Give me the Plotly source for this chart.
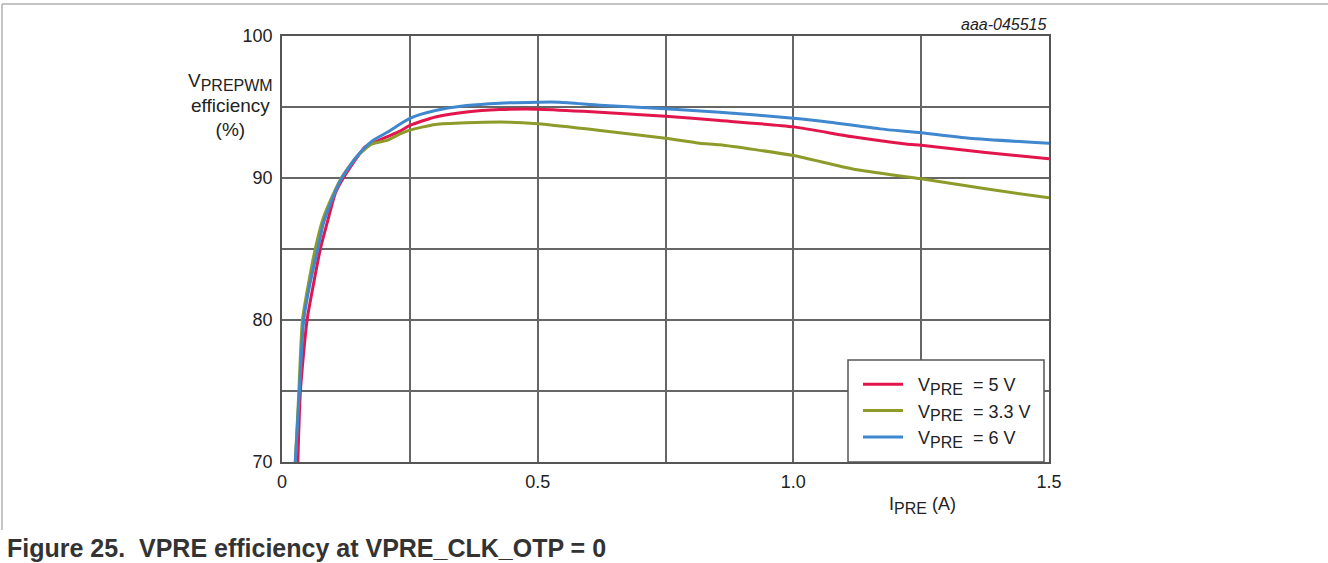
import plotly.graph_objects as go

# ---- data ----
i_5v = [0.031, 0.036, 0.049, 0.062, 0.075, 0.088, 0.104, 0.120, 0.163, 0.186, 0.205, 0.231, 0.25, 0.30,
        0.361, 0.426, 0.50, 0.589, 0.75, 0.856, 1.0, 1.116, 1.22, 1.25, 1.376, 1.5]
eff_5v = [70, 75, 80, 82.6, 85, 86.8, 88.9, 90, 92.2, 92.6, 92.9, 93.3, 93.7, 94.3,
          94.65, 94.82, 94.85, 94.7, 94.35, 94.05, 93.6, 92.9, 92.4, 92.3, 91.8, 91.35]

i_33v = [0.026, 0.033, 0.040, 0.052, 0.065, 0.079, 0.102, 0.116, 0.146, 0.176, 0.205, 0.231, 0.25, 0.30,
         0.361, 0.446, 0.50, 0.622, 0.75, 0.817, 0.856, 1.0, 1.116, 1.25, 1.376, 1.5]
eff_33v = [70, 75, 80, 82.6, 85, 87, 89, 90, 91.5, 92.4, 92.65, 93.1, 93.37, 93.77,
           93.89, 93.93, 93.82, 93.35, 92.8, 92.45, 92.34, 91.58, 90.64, 89.94, 89.24, 88.6]

i_6v = [0.026, 0.034, 0.0425, 0.055, 0.070, 0.081, 0.104, 0.117, 0.146, 0.176, 0.205, 0.25, 0.30,
        0.361, 0.426, 0.50, 0.543, 0.622, 0.75, 0.856, 1.0, 1.071, 1.169, 1.25, 1.344, 1.5]
eff_6v = [70, 75, 80, 82.6, 85, 86.8, 89.0, 90, 91.5, 92.6, 93.2, 94.2, 94.75,
          95.1, 95.27, 95.34, 95.34, 95.13, 94.87, 94.63, 94.21, 93.93, 93.46, 93.18, 92.8, 92.45]

SUB = "<sub><span style='font-size:16px'>PRE</span></sub>"
series_names = ["\u00a0\u00a0V" + SUB + "  = 5 V", "\u00a0\u00a0V" + SUB + "  = 3.3 V", "\u00a0\u00a0V" + SUB + "  = 6 V"]
series_colors = ["#E2164D", "#8E9B2A", "#3F87CE"]

x_tickvals = [0, 0.25, 0.5, 0.75, 1.0, 1.25, 1.5]
x_ticktext = ["0", "", "0.5", "", "1.0", "", "1.5"]
y_tickvals = [70, 75, 80, 85, 90, 95, 100]
y_ticktext = ["70", "", "80", "", "90", "", "100"]

FONT = "Liberation Sans, Arial, sans-serif"
W, H = 1328, 563
L, R, T, B = 282, 1049, 36, 462  # plot area in pixels


def px_x(p):
    return (p - L) / (R - L)


def px_y(p):
    return (B - p) / (B - T)


fig = go.Figure()
for xs, ys, name, col in [(i_5v, eff_5v, series_names[0], series_colors[0]),
                          (i_33v, eff_33v, series_names[1], series_colors[1]),
                          (i_6v, eff_6v, series_names[2], series_colors[2])]:
    fig.add_trace(go.Scatter(x=xs, y=ys, mode="lines", name=name,
                             line=dict(color=col, width=3, shape="spline", smoothing=0.6)))

axis_common = dict(showline=True, linecolor="#555", linewidth=1.5, mirror=True,
                   showgrid=True, gridcolor="#666", gridwidth=1.5, zeroline=False,
                   ticks="", tickfont=dict(family=FONT, size=18, color="#222"))

fig.update_xaxes(range=[0, 1.5], tickvals=x_tickvals, ticktext=x_ticktext, ticklabelstandoff=3, **axis_common)
fig.update_yaxes(range=[70, 100], tickvals=y_tickvals, ticktext=y_ticktext, ticklabelstandoff=4, **axis_common)

annotations = [
    dict(text="V<sub><span style='font-size:16px'>PREPWM</span></sub><br>efficiency<br>(%)",
         x=px_x(230), y=px_y(105), xref="paper", yref="paper",
         showarrow=False, font=dict(family=FONT, size=19, color="#222"), align="center",
         xanchor="center", yanchor="middle"),
    dict(text="I" + SUB + " (A)", x=px_x(922), y=px_y(505), xref="paper", yref="paper",
         showarrow=False, font=dict(family=FONT, size=18, color="#222"), xanchor="center", yanchor="middle"),
    dict(text="<i>aaa-045515</i>", x=1.0, y=px_y(24), xref="paper", yref="paper",
         showarrow=False, font=dict(family=FONT, size=16, color="#222"), xanchor="right", yanchor="middle"),
    dict(text="<b>Figure 25.  VPRE efficiency at VPRE_CLK_OTP = 0</b>", x=px_x(5), y=px_y(548),
         xref="paper", yref="paper", showarrow=False, font=dict(family=FONT, size=25, color="#333"),
         xanchor="left", yanchor="middle"),
]

shapes = [
    dict(type="line", xref="paper", yref="paper", x0=px_x(2), x1=px_x(1328), y0=px_y(4), y1=px_y(4),
         line=dict(color="#b0b0b0", width=1.5)),
    dict(type="line", xref="paper", yref="paper", x0=px_x(2), x1=px_x(2), y0=px_y(4), y1=px_y(530),
         line=dict(color="#b0b0b0", width=1.5)),
    # legend frame
    dict(type="rect", xref="paper", yref="paper", x0=px_x(848), x1=px_x(1044), y0=px_y(462), y1=px_y(360),
         line=dict(color="#555", width=1.5), fillcolor="white", layer="above"),
]

fig.update_layout(
    width=W, height=H,
    margin=dict(l=L, r=W - R, t=T, b=H - B, pad=0),
    paper_bgcolor="white", plot_bgcolor="white",
    font=dict(family=FONT, size=18, color="#222"),
    showlegend=True,
    legend=dict(x=px_x(858), y=px_y(366), xanchor="left", yanchor="top",
                bgcolor="rgba(0,0,0,0)", borderwidth=0,
                font=dict(family=FONT, size=18, color="#222"),
                itemwidth=40, tracegroupgap=0, traceorder="normal"),
    annotations=annotations,
    shapes=shapes,
)

fig.write_html("out.html", config={"displayModeBar": False},
               post_script="document.body.style.margin='0';document.body.style.overflow='hidden';")
